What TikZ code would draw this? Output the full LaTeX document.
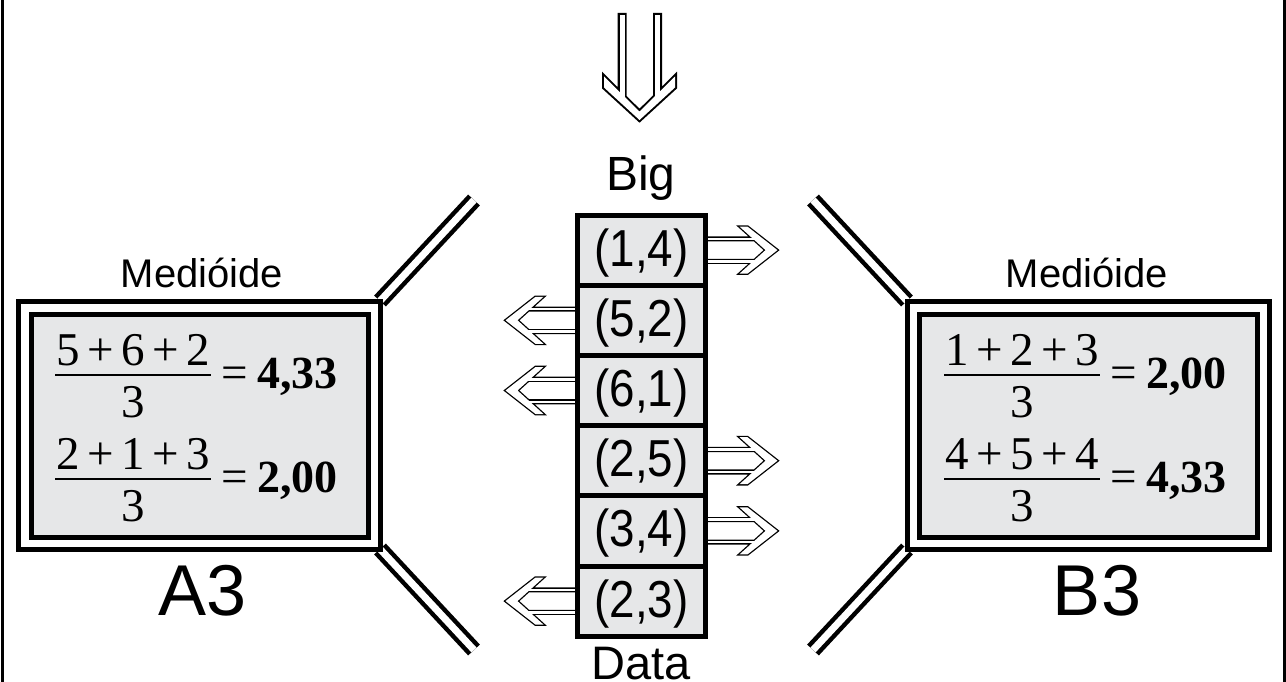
\documentclass[tikz,border=0pt]{standalone}
\usepackage{fontspec}
\setmainfont{Liberation Sans}
\newfontfamily\tnr{Liberation Serif}
\usetikzlibrary{backgrounds}
\definecolor{boxgray}{HTML}{E6E7E8}
\newcommand\sidearrow[2]{%
  \begin{scope}[shift={(#1)}, xscale=#2]
    \draw[line width=2.6pt] (0,-12.5) rectangle (52,-10) (0,10) rectangle (52,12.5)
      (34,-23.5) -- (42,-23.5) -- (72,0) -- (42,23.5) -- (34,23.5) -- (60,0) -- cycle;
    \fill[white] (0,-12.5) rectangle (52,-10);
    \fill[white] (0,10) rectangle (52,12.5);
    \fill[white] (34,-23.5) -- (42,-23.5) -- (72,0) -- (42,23.5) -- (34,23.5) -- (60,0) -- cycle;
  \end{scope}}
\newcommand\pl{\hspace{0.16em}+\hspace{0.16em}}
\newcommand\fracrow[5]{%
  \node[frac] (#1n) at ({#2+115},{#3-10}) {#4};
  \node[frac] (#1d) at ({#2+115},{#3+42}) {3};
  \draw[line width=1.6pt] ({#2+37},#3) -- ({#2+193},#3);
  \node[frac] (#1e) at ({#2+217},{#3+13}) {=};
  \node[frac, anchor=base west, font=\fontsize{46}{50}\selectfont\tnr\bfseries] (#1v) at ({#2+239},{#3+13}) {#5};}
\begin{document}
\begin{tikzpicture}[x=1pt, y=-1pt,
  lab/.style={inner sep=0, outer sep=0, anchor=base},
  frac/.style={inner sep=0, outer sep=0, anchor=base, font=\fontsize{47}{50}\selectfont\tnr},
  cell/.style={draw, fill=boxgray, line width=5pt, minimum width=128pt, minimum height=70.2pt,
    inner sep=0, outer sep=0, text height=40pt, text depth=8pt, font=\fontsize{52}{56}\selectfont},
  obox/.style={draw, line width=5pt, minimum width=362pt, minimum height=248pt, inner sep=0, outer sep=0},
  ibox/.style={draw, fill=boxgray, line width=5pt, inner sep=0, outer sep=0},
  dline/.style={draw=black, double=white, double distance=7pt, line width=4.5pt}]
\useasboundingbox (0,0) rectangle (1286,682);
% side frame lines
\draw[line width=3pt] (2,0) -- (2,682);
\draw[line width=3pt] (1284,0) -- (1284,682);
% top hollow arrow
\begin{scope}[shift={(639.5,0)}]
  \draw[line width=4pt] (-20,15) rectangle (-15,99) (15.5,15) rectangle (20.5,99)
    (-35.5,76.5) -- (0,111.5) -- (35.5,76.5) -- (35.5,87.5) -- (0,120) -- (-35.5,87.5) -- cycle;
  \fill[white] (-20,15) rectangle (-15,99);
  \fill[white] (15.5,15) rectangle (20.5,99);
  \fill[white] (-35.5,76.5) -- (0,111.5) -- (35.5,76.5) -- (35.5,87.5) -- (0,120) -- (-35.5,87.5) -- cycle;
\end{scope}
% central column
\foreach \i/\t in {1/{(1,4)},2/{(5,2)},3/{(6,1)},4/{(2,5)},5/{(3,4)},6/{(2,3)}}
  \node[cell] (r\i) at (641.5,{250.1+70.2*(\i-1)}) {\scalebox{0.88}[1]{\t}};
\node[lab, font=\fontsize{48}{52}\selectfont] (big) at (641,190) {Big};
\node[lab, font=\fontsize{47}{52}\selectfont] (data) at (641,679) {Data};
\begin{pgfonlayer}{background}
  \sidearrow{r1.east}{1}
  \sidearrow{r4.east}{1}
  \sidearrow{r5.east}{1}
  \sidearrow{r2.west}{-1}
  \sidearrow{r3.west}{-1}
  \sidearrow{r6.west}{-1}
\end{pgfonlayer}
% left box
\node[obox] (Aout) at (199,425) {};
\node[ibox, minimum width=337pt, minimum height=223pt] (Ain) at (199.5,425.5) {};
\node[lab, font=\fontsize{40}{44}\selectfont] (Amed) at (202,287) {Medióide};
\node[lab, font=\fontsize{72}{76}\selectfont] (Alab) at (203,615) {A3};
\fracrow{fa}{18}{375}{5\pl 6\pl 2}{4,33}
\fracrow{fb}{18}{479}{2\pl 1\pl 3}{2,00}
% right box
\node[obox] (Bout) at (1088,425) {};
\node[ibox, minimum width=338pt, minimum height=223pt] (Bin) at (1088,425.5) {};
\node[lab, font=\fontsize{40}{44}\selectfont] (Bmed) at (1087,287) {Medióide};
\node[lab, font=\fontsize{72}{76}\selectfont] (Blab) at (1097,615) {B3};
\fracrow{fc}{907}{375}{1\pl 2\pl 3}{2,00}
\fracrow{fd}{907}{479}{4\pl 5\pl 4}{4,33}
% funnel double lines
\coordinate (ful) at (474,200);
\coordinate (fll) at (474,650);
\coordinate (fur) at (813,200);
\coordinate (flr) at (813,650);
\begin{pgfonlayer}{background}
  \draw[dline] (Aout.north east) -- (ful);
  \draw[dline] (Aout.south east) -- (fll);
  \draw[dline] (Bout.north west) -- (fur);
  \draw[dline] (Bout.south west) -- (flr);
\end{pgfonlayer}
\end{tikzpicture}
\end{document}
